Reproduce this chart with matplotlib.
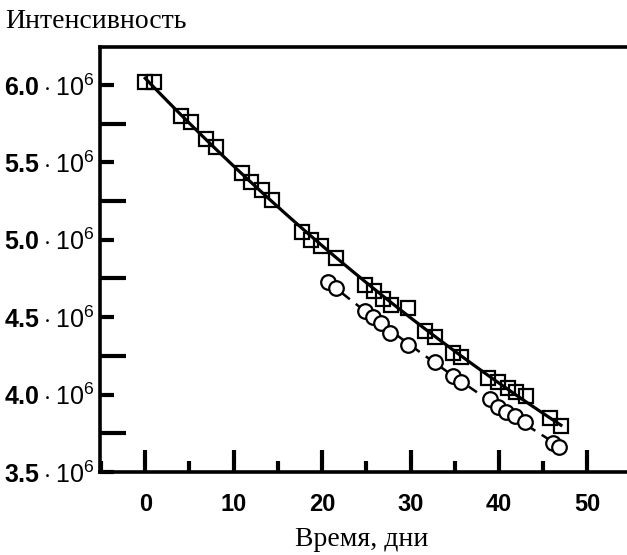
import numpy as np
import matplotlib
matplotlib.use("Agg")
import matplotlib.pyplot as plt
from matplotlib.ticker import MultipleLocator, FixedLocator, FuncFormatter

# squares (solid line)
days_sq = [0, 1, 4.1, 5.2, 6.9, 8.0, 10.9, 12.0, 13.2, 14.3, 17.7, 18.8, 19.9, 21.6,
           24.9, 25.9, 26.9, 27.8, 29.7, 31.6, 32.8, 34.8, 35.7,
           38.7, 39.9, 41.0, 41.9, 43.0, 45.8, 47.0]
int_sq = [6.02, 6.02, 5.80, 5.76, 5.65, 5.60, 5.43, 5.37, 5.32, 5.26, 5.05, 5.00, 4.96, 4.88,
          4.71, 4.67, 4.62, 4.58, 4.56, 4.41, 4.37, 4.27, 4.24,
          4.11, 4.08, 4.04, 4.02, 3.99, 3.85, 3.80]

# circles (dashed line)
days_ci = [20.7, 21.6, 24.9, 25.8, 26.7, 27.7, 29.7, 32.8, 34.8, 35.7,
           39.0, 39.9, 40.8, 41.8, 42.9, 46.1, 46.8]
int_ci = [4.73, 4.69, 4.54, 4.50, 4.46, 4.40, 4.32, 4.21, 4.12, 4.08,
          3.97, 3.92, 3.89, 3.86, 3.82, 3.69, 3.66]

y_major = [3.5, 4.0, 4.5, 5.0, 5.5, 6.0]
y_minor = [3.75, 4.25, 4.75, 5.25, 5.75]
x_major = [0, 10, 20, 30, 40, 50]

plt.rcParams['mathtext.fontset'] = 'custom'
plt.rcParams['mathtext.rm'] = 'Liberation Sans'
plt.rcParams['mathtext.bf'] = 'Liberation Sans:bold'


def exp_fit(x, y):
    x = np.array(x)
    k, b = np.polyfit(x, np.log(y), 1)
    xs = np.linspace(x.min(), x.max(), 100)
    return xs, np.exp(b + k * xs)


def ylabel_fmt(v, pos):
    return r"$\mathbf{%.1f}\cdot10^{6}$" % v


def main():
    fig = plt.figure(figsize=(6.27, 5.55), dpi=100)
    ax = fig.add_axes([0.1595, 0.1495, 0.8405, 0.7658])

    xs, ys = exp_fit(days_sq, int_sq)
    ax.plot(xs, ys, color="black", lw=2.3, zorder=2)
    xs, ys = exp_fit(days_ci, int_ci)
    ax.plot(xs, ys, color="black", lw=1.8, ls=(0, (4, 3)), zorder=2)

    ax.plot(days_sq, int_sq, ls="none", marker="s", ms=9.5, mfc="none",
            mec="black", mew=1.6, zorder=3)
    ax.plot(days_ci, int_ci, ls="none", marker="o", ms=10.5, mfc="white",
            mec="black", mew=1.6, zorder=3)

    ax.set_xlim(-5.11, 54.47)
    ax.set_ylim(3.5, 6.245)

    ax.spines['right'].set_visible(False)
    for s in ['left', 'top', 'bottom']:
        ax.spines[s].set_linewidth(2.6)

    ax.xaxis.set_major_locator(FixedLocator(x_major))
    ax.xaxis.set_minor_locator(MultipleLocator(5))
    ax.yaxis.set_major_locator(FixedLocator(y_major))
    ax.yaxis.set_minor_locator(FixedLocator(y_minor))
    ax.yaxis.set_major_formatter(FuncFormatter(ylabel_fmt))

    ax.tick_params(axis='x', which='major', direction='in', length=16, width=3,
                   top=False, pad=15, labelsize=17)
    ax.tick_params(axis='x', which='minor', direction='in', length=8, width=3, top=False)
    ax.tick_params(axis='y', which='major', direction='in', length=10, width=3,
                   right=False, pad=4, labelsize=18)
    ax.tick_params(axis='y', which='minor', direction='in', length=19, width=3, right=False)
    for lab in ax.get_xticklabels():
        lab.set_fontfamily('Liberation Sans')
        lab.set_fontweight('bold')

    fig.text(0.008, 0.95, "Интенсивность", family="Liberation Serif", fontsize=20,
             va="baseline", ha="left")
    fig.text(0.577, 0.017, "Время, дни", family="Liberation Serif", fontsize=20,
             va="baseline", ha="center")

    fig.savefig("out.png", dpi=100)


if __name__ == "__main__":
    main()
